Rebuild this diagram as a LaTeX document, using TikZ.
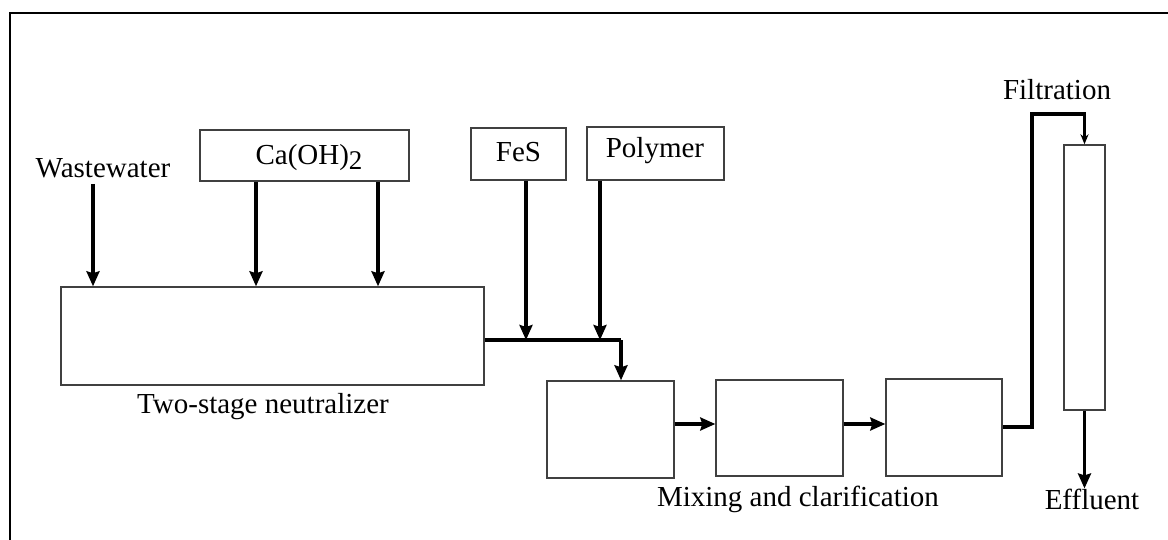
\documentclass[tikz,border=0pt]{standalone}
\usepackage{fontspec}
\setmainfont{Liberation Serif}
\usetikzlibrary{arrows.meta}
\begin{document}
\begin{tikzpicture}[x=1pt,y=-1pt,
  box/.style={draw=black!75, line width=1.4pt, inner sep=0pt, fill=white},
  flow/.style={line width=3.2pt, -{Stealth[length=15pt,width=13pt,inset=2pt]}},
  smallflow/.style={line width=3.2pt, -{Stealth[length=10pt,width=8pt]}},
  pipe/.style={line width=3.2pt},
  lbl/.style={font=\fontsize{29}{33}\selectfont, inner sep=0pt, text=black}]
\useasboundingbox (0,0) rectangle (1168,540);
\draw[line width=1.6pt] (1168,13) -- (10,13) -- (10,540);
% boxes
\node[box, minimum width=209pt, minimum height=51pt] (ca) at (304.5,155.5) {};
\node[lbl] (catext) at (309,158) {Ca(OH)\raisebox{-0.35ex}{\fontsize{27}{30}\selectfont 2}};
\node[box, minimum width=95pt, minimum height=52pt] (fes) at (518.5,154) {};
\node[lbl] (festext) at (518.5,152) {FeS};
\node[box, minimum width=137pt, minimum height=53pt] (poly) at (655.5,153.5) {};
\node[lbl] (polytext) at (655,151) {Polymer};
\node[box, minimum width=423pt, minimum height=98pt] (neut) at (272.5,336) {};
\node[box, minimum width=127pt, minimum height=97pt] (m1) at (610.5,429.5) {};
\node[box, minimum width=127pt, minimum height=96pt] (m2) at (779.5,428) {};
\node[box, minimum width=116pt, minimum height=97pt] (m3) at (944,427.5) {};
\node[box, minimum width=41pt, minimum height=265pt] (col) at (1084.5,277.5) {};
% labels
\node[lbl] (ww) at (103,168) {Wastewater};
\node[lbl] (neutlbl) at (263,407) {Two-stage neutralizer};
\node[lbl] (mixlbl) at (798,499) {Mixing and clarification};
\node[lbl] (filt) at (1057,90) {Filtration};
\node[lbl] (eff) at (1092,499) {Effluent};
% coordinates
\coordinate (w1) at (93,0);
\coordinate (c1) at (256,0);
\coordinate (c2) at (378,0);
\coordinate (f1) at (526,0);
\coordinate (p1) at (600,0);
\coordinate (j) at (621,340);
\coordinate (h) at (0,424);
\coordinate (r) at (1032,427);
\coordinate (t) at (1032,114);
% connectors
\draw[flow] ([yshift=-6pt]ww.south -| w1) -- (neut.north -| w1);
\draw[flow] (ca.south -| c1) -- (neut.north -| c1);
\draw[flow] (ca.south -| c2) -- (neut.north -| c2);
\draw[flow] (fes.south -| f1) -- (j -| f1);
\draw[flow] (poly.south -| p1) -- (j -| p1);
\draw[pipe] (neut.east |- j) -- (j);
\draw[flow] (j) -- (m1.north -| j);
\draw[flow] (m1.east |- h) -- (m2.west |- h);
\draw[flow] (m2.east |- h) -- (m3.west |- h);
\draw[smallflow] (m3.east |- r) -- (r) -- (t) -- (col.north |- t) -- (col.north);
\draw[flow] (col.south) -- (col.south |- eff.north);
\end{tikzpicture}
\end{document}
